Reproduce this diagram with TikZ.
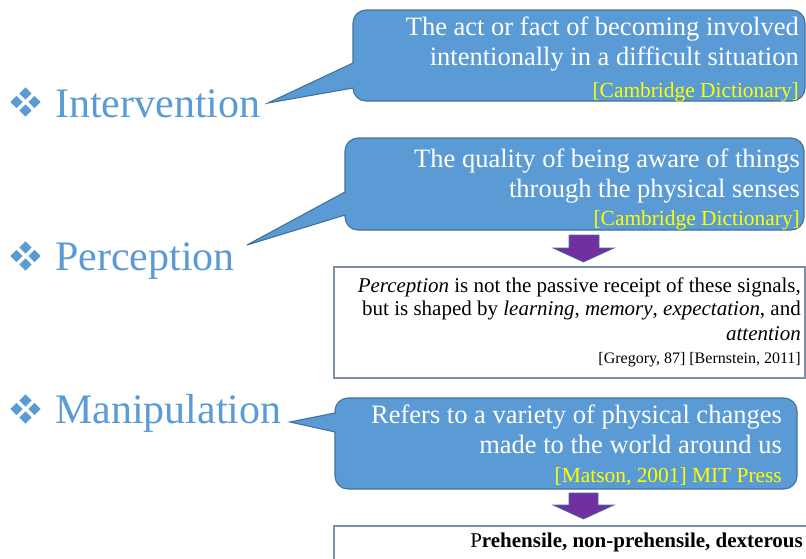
\documentclass[tikz,border=0pt]{standalone}
\usepackage{fontspec}
\setmainfont{Liberation Serif}

\definecolor{offblue}{HTML}{5B9BD5}
\definecolor{offedge}{HTML}{41719C}
\definecolor{srcyellow}{HTML}{FFFF00}
\definecolor{arrowpurple}{HTML}{7030A0}
\definecolor{boxedge}{HTML}{7F8FA6}

\tikzset{
  callout/.style={fill=offblue, draw=offedge, line width=1.1pt, line join=miter},
  heading/.style={text=offblue, font=\fontsize{42}{46}\selectfont, inner sep=0pt, anchor=base west},
  defline/.style={text=white, font=\fontsize{26.5}{30}\selectfont, inner sep=0pt, anchor=base east},
  srcline/.style={text=srcyellow, font=\fontsize{21.4}{24}\selectfont, inner sep=0pt, anchor=base east},
  noteline/.style={text=black, font=\fontsize{21}{24}\selectfont, inner sep=0pt, anchor=base east},
  citeline/.style={text=black, font=\fontsize{16}{18}\selectfont, inner sep=0pt, anchor=base east},
  notebox/.style={draw=boxedge, line width=1.2pt, fill=white},
  downarrow/.style={fill=arrowpurple, draw=offedge, line width=0.7pt},
  quadgem/.pic={
    \foreach \dx/\dy in {0/-8.5,-9/0,9/0,0/8.5}
      \fill[offblue] (\dx,\dy-6.2) -- (\dx+6.2,\dy) -- (\dx,\dy+6.2) -- (\dx-6.2,\dy) -- cycle;
  }
}

\begin{document}
\begin{tikzpicture}[x=1pt, y=-1pt]
  \useasboundingbox (0,0) rectangle (806,558);
  \clip (0,0) rectangle (806,558);

  % ---------- headings with their bullets ----------
  \pic at (25.5,102) {quadgem};
  \node[heading] (hInt) at (55,117) {Intervention};
  \pic at (25.5,256) {quadgem};
  \node[heading] (hPer) at (55,270) {Perception};
  \pic at (25.5,409) {quadgem};
  \node[heading] (hMan) at (55,423) {Manipulation};

  % pointer tips of the callouts
  \coordinate (tipA) at (268,103);
  \coordinate (tipB) at (247,245);
  \coordinate (tipC) at (290,422);

  % ---------- callout: Intervention ----------
  \path[callout] (tipA) -- (353,63) -- (353,23)
    arc[start angle=180, end angle=270, radius=13] -- (792,10)
    arc[start angle=270, end angle=360, radius=13] -- (805,88)
    arc[start angle=0, end angle=90, radius=13] -- (366,101)
    arc[start angle=90, end angle=180, radius=13] -- cycle;
  \node[defline] (defA1) at (799,35) {The act or fact of becoming involved};
  \node[defline] (defA2) at (799,65) {intentionally in a difficult situation};
  \node[srcline] (srcA) at (799,97) {[Cambridge Dictionary]};

  % ---------- callout: Perception ----------
  \path[callout] (tipB) -- (345,192) -- (345,151)
    arc[start angle=180, end angle=270, radius=13] -- (791,138)
    arc[start angle=270, end angle=360, radius=13] -- (804,217)
    arc[start angle=0, end angle=90, radius=13] -- (358,230)
    arc[start angle=90, end angle=180, radius=13] -- (345,215) -- cycle;
  \node[defline] (defB1) at (800,167) {The quality of being aware of things};
  \node[defline] (defB2) at (800,197) {through the physical senses};
  \node[srcline] (srcB) at (800,225) {[Cambridge Dictionary]};

  % arrow down to the note on perception
  \path[downarrow] (569,235) -- (599,235) -- (599,248) -- (614,248)
    -- (583.5,262) -- (553,248) -- (569,248) -- cycle;

  \path[notebox] (334,267) rectangle (805,378);
  \node[noteline] (noteB1) at (801,292) {\textit{Perception} is not the passive receipt of these signals,};
  \node[noteline] (noteB2) at (801,315) {but is shaped by \textit{learning}, \textit{memory}, \textit{expectation}, and};
  \node[noteline] (noteB3) at (801,340) {\textit{attention}};
  \node[citeline] (citeB) at (801,363) {[Gregory, 87] [Bernstein, 2011]};

  % ---------- callout: Manipulation ----------
  \path[callout] (tipC) -- (335,413) -- (335,411)
    arc[start angle=180, end angle=270, radius=13] -- (784,398)
    arc[start angle=270, end angle=360, radius=13] -- (797,476)
    arc[start angle=0, end angle=90, radius=13] -- (348,489)
    arc[start angle=90, end angle=180, radius=13] -- (335,432) -- cycle;
  \node[defline] (defC1) at (782,423) {Refers to a variety of physical changes};
  \node[defline] (defC2) at (782,453) {made to the world around us};
  \node[srcline] (srcC) at (782,482) {[Matson, 2001] MIT Press};

  % arrow down to the note on manipulation
  \path[downarrow] (569,493) -- (598,493) -- (598,505) -- (614,505)
    -- (583.5,519) -- (553,505) -- (569,505) -- cycle;

  \path[notebox] (334,526) rectangle (812,570);
  \node[noteline] (noteC1) at (803,547) {P\textbf{rehensile, non-prehensile, dexterous}};
\end{tikzpicture}
\end{document}
